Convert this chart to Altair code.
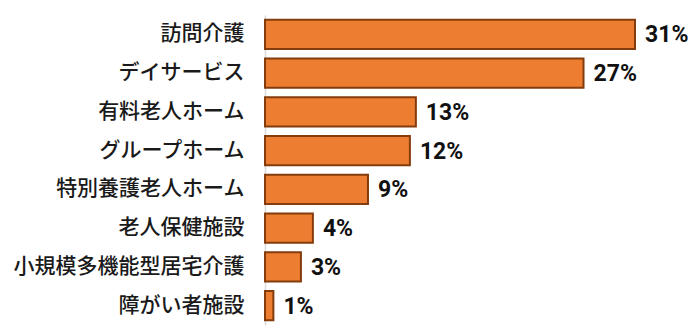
import altair as alt
import pandas as pd

categories = ["訪問介護", "デイサービス", "有料老人ホーム", "グループホーム",
              "特別養護老人ホーム", "老人保健施設", "小規模多機能型居宅介護", "障がい者施設"]
values = [30.9, 26.6, 12.6, 12.1, 8.6, 4.0, 3.0, 0.7]
labels = ["31%", "27%", "13%", "12%", "9%", "4%", "3%", "1%"]

df = pd.DataFrame({"cat": categories, "val": values, "label": labels})

y_enc = alt.Y("cat:N", sort=categories,
              scale=alt.Scale(paddingInner=0.25, paddingOuter=0.125),
              axis=alt.Axis(title=None, ticks=False, labelPadding=21,
                            labelFont="Noto Sans CJK JP", labelFontSize=21,
                            labelFontWeight=500,
                            labelColor="#1a1a1a", domainColor="#d9d9d9",
                            domainWidth=1.5, labelLimit=300))
x_enc = alt.X("val:Q", scale=alt.Scale(domain=[0, 30.9]), axis=None)

bars = alt.Chart(df).mark_bar(color="#ED7D31", stroke="#843C0C",
                              strokeWidth=2, cornerRadius=0).encode(
    x=x_enc, y=y_enc)

text = alt.Chart(df).mark_text(align="left", baseline="middle", dx=10, dy=1,
                               font="Roboto", fontWeight="bold",
                               fontSize=23, color="#111111").encode(
    x=x_enc, y=alt.Y("cat:N", sort=categories), text="label:N")

chart = alt.layer(bars, text).properties(
    width=370, height=310,
    autosize=alt.AutoSizeParams(type="none"),
    padding={"left": 265, "right": 57, "top": 15, "bottom": 8},
    background="white"
).configure_view(stroke=None)

chart.save("out.html", embed_options={"renderer": "svg", "actions": False})
